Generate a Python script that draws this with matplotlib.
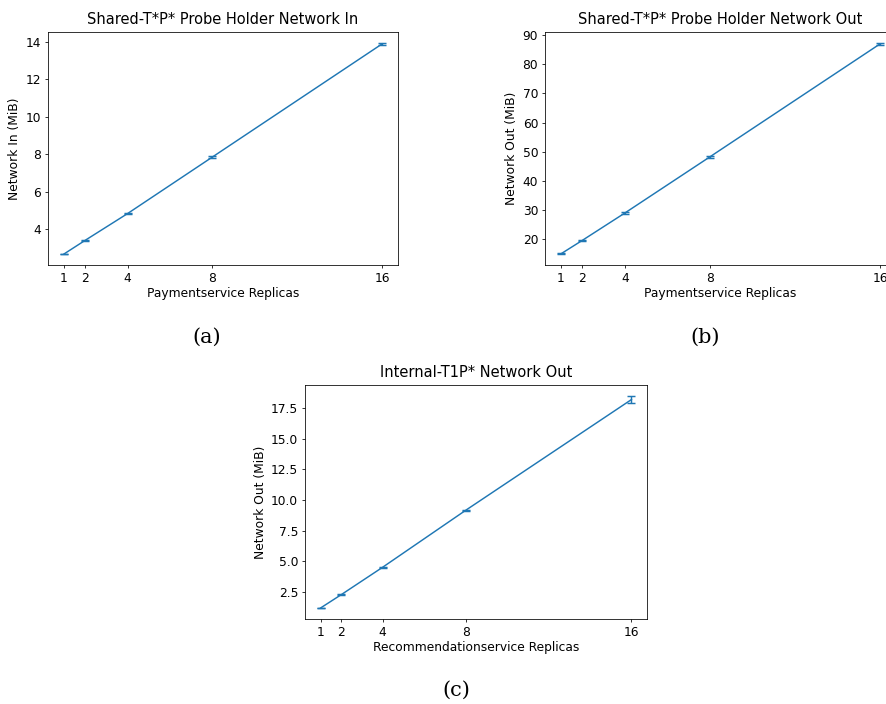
import matplotlib
matplotlib.use("Agg")
import matplotlib.pyplot as plt

replicas = [1, 2, 4, 8, 16]
net_in_a = [2.67, 3.40, 4.83, 7.85, 13.89]
err_a = [0.02, 0.03, 0.04, 0.04, 0.07]
net_out_b = [14.9, 19.5, 28.9, 48.2, 87.0]
err_b = [0.2, 0.25, 0.3, 0.3, 0.45]
net_out_c = [1.19, 2.28, 4.52, 9.16, 18.2]
err_c = [0.03, 0.03, 0.05, 0.06, 0.32]

titles = ["Shared-T*P* Probe Holder Network In",
          "Shared-T*P* Probe Holder Network Out",
          "Internal-T1P* Network Out"]
xlabels = ["Paymentservice Replicas", "Paymentservice Replicas",
           "Recommendationservice Replicas"]
ylabels = ["Network In (MiB)", "Network Out (MiB)", "Network Out (MiB)"]
captions = ["(a)", "(b)", "(c)"]

W, H = 886, 704
fig = plt.figure(figsize=(W / 100, H / 100), dpi=100)

def box(l, t, r, b):
    return [l / W, 1 - b / H, (r - l) / W, (b - t) / H]

rects = [box(48, 32, 398, 265), box(545, 32, 896, 265), box(305, 385, 647, 619)]
ys = [net_in_a, net_out_b, net_out_c]
es = [err_a, err_b, err_c]
cap_pos = [(207, 337), (705, 337), (456, 690)]

s = 0.7
f = 0.88
for i in range(3):
    ax = fig.add_axes(rects[i])
    ax.errorbar(replicas, ys[i], yerr=es[i], color="#1f77b4", lw=1.5 * s,
                capsize=3 * s * 1.3, elinewidth=1.5 * s, capthick=1.5 * s)
    ax.set_xticks(replicas)
    ax.set_title(titles[i], fontsize=12 * f, pad=6)
    ax.set_xlabel(xlabels[i], fontsize=10 * f, labelpad=1.5)
    ax.set_ylabel(ylabels[i], fontsize=10 * f, labelpad=3)
    ax.tick_params(labelsize=10 * f, length=3.5 * s, width=0.8 * s, pad=2.5)
    for sp in ax.spines.values():
        sp.set_linewidth(0.8 * s)
    cx, cy = cap_pos[i]
    fig.text(cx / W, 1 - cy / H, captions[i], ha="center", va="center",
             fontsize=15, family="DejaVu Serif")

fig.savefig("out.png", dpi=100)
